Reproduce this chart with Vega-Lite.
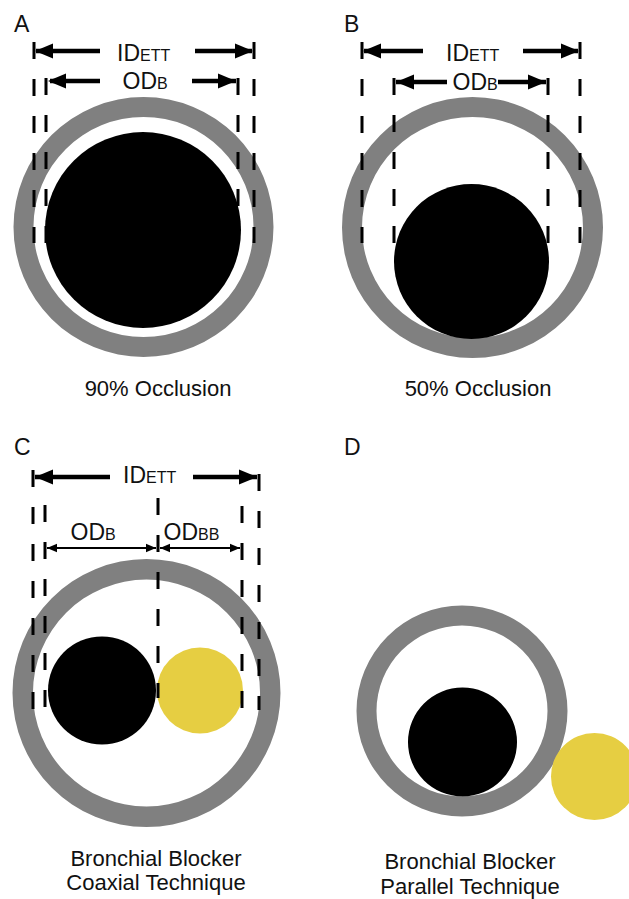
{
  "$schema": "https://vega.github.io/schema/vega-lite/v6.json",
  "width": 629,
  "height": 899,
  "autosize": {"type": "fit", "contains": "padding"},
  "padding": 0,
  "background": "white",
  "config": {"view": {"stroke": null}, "font": "Liberation Sans"},
  "datasets": {
    "shapes": [
      {"panel": "A", "part": "tube", "cx": 143.5, "cy": 227, "ro": 130, "ri": 110},
      {"panel": "A", "part": "blocker", "cx": 143, "cy": 230, "ro": 98, "ri": 0},
      {"panel": "B", "part": "tube", "cx": 472.5, "cy": 227.5, "ro": 130.5, "ri": 110.5},
      {"panel": "B", "part": "blocker", "cx": 471.5, "cy": 261.5, "ro": 77.5, "ri": 0},
      {"panel": "C", "part": "tube", "cx": 146.5, "cy": 693, "ro": 134, "ri": 113.5},
      {"panel": "C", "part": "blocker", "cx": 102, "cy": 690.5, "ro": 54, "ri": 0},
      {"panel": "C", "part": "bronchoscope", "cx": 200, "cy": 690.5, "ro": 43, "ri": 0},
      {"panel": "D", "part": "tube", "cx": 462, "cy": 711, "ro": 105.5, "ri": 85.5},
      {"panel": "D", "part": "blocker", "cx": 462.5, "cy": 742, "ro": 54.5, "ri": 0},
      {"panel": "D", "part": "bronchoscope", "cx": 594.5, "cy": 776.5, "ro": 43.5, "ri": 0}
    ],
    "guides": [
      {"panel": "A", "gx": 34, "gy1": 42, "gy2": 243},
      {"panel": "A", "gx": 46, "gy1": 78, "gy2": 243},
      {"panel": "A", "gx": 238, "gy1": 78, "gy2": 243},
      {"panel": "A", "gx": 254, "gy1": 42, "gy2": 243},
      {"panel": "B", "gx": 362, "gy1": 42, "gy2": 243},
      {"panel": "B", "gx": 394, "gy1": 78, "gy2": 243},
      {"panel": "B", "gx": 548, "gy1": 78, "gy2": 243},
      {"panel": "B", "gx": 580, "gy1": 42, "gy2": 243},
      {"panel": "C", "gx": 33, "gy1": 470, "gy2": 710},
      {"panel": "C", "gx": 45, "gy1": 505, "gy2": 710},
      {"panel": "C", "gx": 158, "gy1": 498, "gy2": 698},
      {"panel": "C", "gx": 242, "gy1": 506, "gy2": 710},
      {"panel": "C", "gx": 259, "gy1": 474, "gy2": 710}
    ],
    "shafts": [
      {"panel": "A", "w": "thick", "x1": 36, "x2": 100, "ay": 51},
      {"panel": "A", "w": "thick", "x1": 195, "x2": 252, "ay": 51},
      {"panel": "A", "w": "thick", "x1": 50, "x2": 100, "ay": 81},
      {"panel": "A", "w": "thick", "x1": 192, "x2": 236, "ay": 81},
      {"panel": "B", "w": "thick", "x1": 364, "x2": 423, "ay": 51},
      {"panel": "B", "w": "thick", "x1": 523, "x2": 578, "ay": 51},
      {"panel": "B", "w": "thick", "x1": 396, "x2": 447, "ay": 82},
      {"panel": "B", "w": "thick", "x1": 498, "x2": 546, "ay": 82},
      {"panel": "C", "w": "thick", "x1": 35, "x2": 110, "ay": 477},
      {"panel": "C", "w": "thick", "x1": 193, "x2": 257, "ay": 477},
      {"panel": "C", "w": "thin", "x1": 47, "x2": 156, "ay": 548},
      {"panel": "C", "w": "thin", "x1": 160, "x2": 240, "ay": 548}
    ],
    "heads": [
      {"panel": "A", "hx": 35, "hy": 51, "dir": "left", "w": "thick"},
      {"panel": "A", "hx": 253, "hy": 51, "dir": "right", "w": "thick"},
      {"panel": "A", "hx": 48, "hy": 81, "dir": "left", "w": "thick"},
      {"panel": "A", "hx": 236, "hy": 81, "dir": "right", "w": "thick"},
      {"panel": "B", "hx": 363, "hy": 51, "dir": "left", "w": "thick"},
      {"panel": "B", "hx": 579, "hy": 51, "dir": "right", "w": "thick"},
      {"panel": "B", "hx": 396, "hy": 82, "dir": "left", "w": "thick"},
      {"panel": "B", "hx": 546, "hy": 82, "dir": "right", "w": "thick"},
      {"panel": "C", "hx": 35, "hy": 477, "dir": "left", "w": "thick"},
      {"panel": "C", "hx": 257, "hy": 477, "dir": "right", "w": "thick"},
      {"panel": "C", "hx": 47, "hy": 548, "dir": "left", "w": "thin"},
      {"panel": "C", "hx": 156, "hy": 548, "dir": "right", "w": "thin"},
      {"panel": "C", "hx": 160, "hy": 548, "dir": "left", "w": "thin"},
      {"panel": "C", "hx": 240, "hy": 548, "dir": "right", "w": "thin"}
    ],
    "leftText": [
      {"label": "A", "role": "panel", "tx": 14, "ty": 32},
      {"label": "B", "role": "panel", "tx": 344, "ty": 32},
      {"label": "C", "role": "panel", "tx": 14, "ty": 455},
      {"label": "D", "role": "panel", "tx": 344, "ty": 455},
      {"label": "ETT", "role": "sub", "tx": 140, "ty": 61},
      {"label": "B", "role": "sub", "tx": 157, "ty": 89},
      {"label": "ETT", "role": "sub", "tx": 469, "ty": 61},
      {"label": "B", "role": "sub", "tx": 487, "ty": 90},
      {"label": "ETT", "role": "sub", "tx": 146, "ty": 483},
      {"label": "B", "role": "sub", "tx": 105, "ty": 540},
      {"label": "BB", "role": "sub", "tx": 198, "ty": 540}
    ],
    "rightText": [
      {"label": "ID", "role": "main", "tx": 140, "ty": 61},
      {"label": "OD", "role": "main", "tx": 157, "ty": 89},
      {"label": "ID", "role": "main", "tx": 469, "ty": 61},
      {"label": "OD", "role": "main", "tx": 487, "ty": 90},
      {"label": "ID", "role": "main", "tx": 146, "ty": 483},
      {"label": "OD", "role": "main", "tx": 105, "ty": 540},
      {"label": "OD", "role": "main", "tx": 198, "ty": 540}
    ],
    "captions": [
      {"label": "90% Occlusion", "tx": 158, "ty": 396},
      {"label": "50% Occlusion", "tx": 478, "ty": 396},
      {"label": "Bronchial Blocker", "tx": 156, "ty": 866},
      {"label": "Coaxial Technique", "tx": 156, "ty": 890},
      {"label": "Bronchial Blocker", "tx": 470, "ty": 869},
      {"label": "Parallel Technique", "tx": 470, "ty": 894}
    ]
  },
  "layer": [
    {
      "data": {"name": "shapes"},
      "mark": {"type": "arc", "theta": 0, "theta2": 6.2832, "stroke": null, "clip": true},
      "encoding": {
        "x": {"field": "cx", "type": "quantitative", "scale": {"domain": [0, 629], "nice": false, "zero": false}, "axis": null},
        "y": {"field": "cy", "type": "quantitative", "scale": {"domain": [0, 899], "nice": false, "zero": false, "reverse": true}, "axis": null},
        "radius": {"field": "ro", "type": "quantitative", "scale": null},
        "radius2": {"field": "ri"},
        "color": {"field": "part", "type": "nominal", "scale": {"domain": ["tube", "blocker", "bronchoscope"], "range": ["#808080", "#000000", "#E6CE42"]}, "legend": null}
      }
    },
    {
      "data": {"name": "guides"},
      "mark": {"type": "rule", "color": "#000000", "strokeWidth": 3, "strokeDash": [17, 20], "strokeCap": "butt"},
      "encoding": {
        "x": {"field": "gx", "type": "quantitative"},
        "y": {"field": "gy1", "type": "quantitative"},
        "y2": {"field": "gy2"}
      }
    },
    {
      "data": {"name": "shafts"},
      "mark": {"type": "rule", "color": "#000000", "strokeCap": "butt"},
      "encoding": {
        "x": {"field": "x1", "type": "quantitative"},
        "x2": {"field": "x2"},
        "y": {"field": "ay", "type": "quantitative"},
        "strokeWidth": {"field": "w", "type": "nominal", "scale": {"domain": ["thick", "thin"], "range": [4.5, 2]}, "legend": null}
      }
    },
    {
      "data": {"name": "heads"},
      "mark": {"type": "point", "filled": true, "color": "#000000", "opacity": 1, "strokeWidth": 0},
      "encoding": {
        "x": {"field": "hx", "type": "quantitative"},
        "y": {"field": "hy", "type": "quantitative"},
        "shape": {"field": "dir", "type": "nominal", "scale": {"domain": ["left", "right"], "range": ["M0,0L1,-0.42L1,0.42Z", "M0,0L-1,-0.42L-1,0.42Z"]}, "legend": null},
        "size": {"field": "w", "type": "nominal", "scale": {"domain": ["thick", "thin"], "range": [1296, 400]}, "legend": null}
      }
    },
    {
      "data": {"name": "leftText"},
      "mark": {"type": "text", "align": "left", "baseline": "alphabetic", "color": "#111111"},
      "encoding": {
        "x": {"field": "tx", "type": "quantitative"},
        "y": {"field": "ty", "type": "quantitative"},
        "text": {"field": "label"},
        "size": {"field": "role", "type": "nominal", "scale": {"domain": ["panel", "sub"], "range": [23, 16]}, "legend": null}
      }
    },
    {
      "data": {"name": "rightText"},
      "mark": {"type": "text", "align": "right", "baseline": "alphabetic", "color": "#111111", "fontSize": 23},
      "encoding": {
        "x": {"field": "tx", "type": "quantitative"},
        "y": {"field": "ty", "type": "quantitative"},
        "text": {"field": "label"}
      }
    },
    {
      "data": {"name": "captions"},
      "mark": {"type": "text", "align": "center", "baseline": "alphabetic", "color": "#111111", "fontSize": 22},
      "encoding": {
        "x": {"field": "tx", "type": "quantitative"},
        "y": {"field": "ty", "type": "quantitative"},
        "text": {"field": "label"}
      }
    }
  ],
  "resolve": {"scale": {"size": "independent", "strokeWidth": "independent", "shape": "independent", "color": "independent"}}
}
